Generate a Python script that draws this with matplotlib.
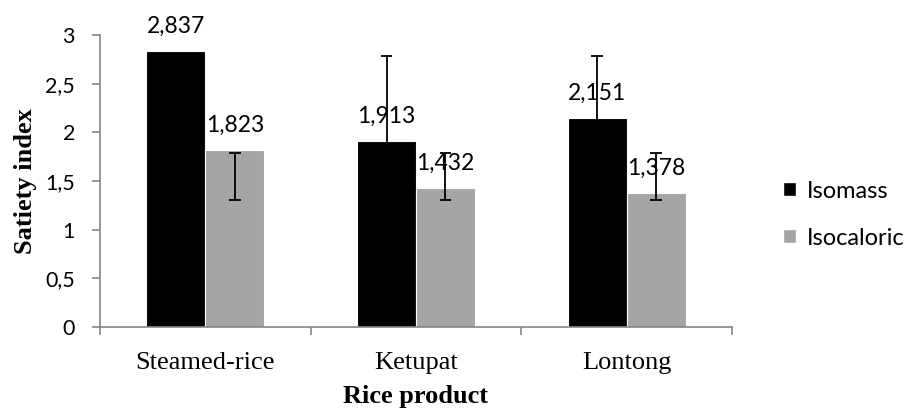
import numpy as np
import matplotlib.pyplot as plt
from matplotlib.patches import Patch

products = ['Steamed-rice', 'Ketupat', 'Lontong']
isomass = [2.837, 1.913, 2.151]
isocaloric = [1.823, 1.432, 1.378]
# whisker ends
isomass_lo = [1.30, 1.30, 1.30]
isomass_hi = [2.78, 2.78, 2.78]
isocaloric_lo = [1.30, 1.30, 1.30]
isocaloric_hi = [1.79, 1.79, 1.79]
yticks = [0, 0.5, 1, 1.5, 2, 2.5, 3]
ytick_labels = ['0', '0,5', '1', '1,5', '2', '2,5', '3']

dpi = 100
fig = plt.figure(figsize=(908 / dpi, 411 / dpi), dpi=dpi)
ax = fig.add_axes([100 / 908, 1 - 327 / 411, 632 / 908, 292 / 411])

sans = ['Lato', 'DejaVu Sans']
serif = 'Liberation Serif'
grey_axis = '#868686'

x = np.arange(len(products))
w = 0.28
black_x = x - w / 2
grey_x = x + w / 2
ax.bar(black_x, isomass, w, color='black', edgecolor='white', linewidth=0.8, zorder=2)
ax.bar(grey_x, isocaloric, w, color='#a5a5a5', edgecolor='white', linewidth=0.8, zorder=2)

# whiskers do not straddle the bar tops, so draw them as plain lines
cap = 0.028
for xs, lo, hi in [(black_x, isomass_lo, isomass_hi), (grey_x, isocaloric_lo, isocaloric_hi)]:
    ax.vlines(xs, lo, hi, color='black', linewidth=1.3, zorder=4)
    ax.hlines(lo, xs - cap, xs + cap, color='black', linewidth=1.3, zorder=4)
    ax.hlines(hi, xs - cap, xs + cap, color='black', linewidth=1.3, zorder=4)

for xs, vals in [(black_x, isomass), (grey_x, isocaloric)]:
    for xi, v in zip(xs, vals):
        ax.annotate(f'{v:.3f}'.replace('.', ','), xy=(xi, v), xytext=(0, 10),
                    textcoords='offset points', ha='center', va='bottom',
                    family=sans, fontsize=16.5, zorder=3)

ax.set_xlim(-0.5, 2.5)
ax.set_ylim(0, 3)
ax.set_yticks(yticks)
ax.set_yticklabels(ytick_labels, family=sans, fontsize=15.5)
ax.set_xticks(x)
ax.set_xticklabels(products, family=serif, fontsize=19)
ax.set_xticks([-0.5, 0.5, 1.5, 2.5], minor=True)
ax.tick_params(axis='x', which='major', length=0, pad=18)
ax.tick_params(axis='x', which='minor', length=6, color=grey_axis, width=1.2)
ax.tick_params(axis='y', length=6, color=grey_axis, width=1.2, pad=12)

for side in ['top', 'right']:
    ax.spines[side].set_visible(False)
for side in ['left', 'bottom']:
    ax.spines[side].set_color(grey_axis)
    ax.spines[side].set_linewidth(1.2)

ax.set_ylabel('Satiety index', family=serif, fontsize=19, fontweight='bold', labelpad=6)
ax.set_xlabel('Rice product', family=serif, fontsize=19, fontweight='bold', labelpad=8)

handles = [Patch(facecolor='black', edgecolor='white'), Patch(facecolor='#a5a5a5', edgecolor='white')]
ax.legend(handles, ['Isomass', 'Isocaloric'], loc='center left', bbox_to_anchor=(1.081, 0.385),
          borderaxespad=0, borderpad=0, frameon=False, prop={'family': sans, 'size': 17},
          handlelength=0.55, handleheight=0.55, handletextpad=0.45, labelspacing=1.1)

fig.savefig('out.png', dpi=dpi)
